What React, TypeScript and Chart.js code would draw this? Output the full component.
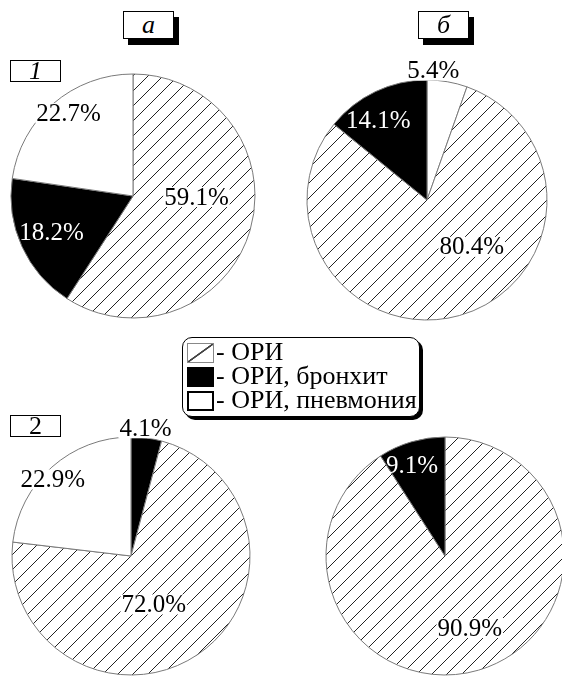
import React, { useEffect, useRef } from 'react';
import { Chart, registerables } from 'chart.js';

Chart.register(...registerables);

// ---- data ----
const categories = ['ОРИ', 'ОРИ, бронхит', 'ОРИ, пневмония'];
const columnTitles = ['а', 'б'];
const rowTitles = ['1', '2'];

const a1Labels = ['ОРИ', 'ОРИ, бронхит', 'ОРИ, пневмония'];
const a1Values = [59.1, 18.2, 22.7];

const b1Labels = ['ОРИ, пневмония', 'ОРИ', 'ОРИ, бронхит'];
const b1Values = [5.4, 80.4, 14.1];

const a2Labels = ['ОРИ, бронхит', 'ОРИ', 'ОРИ, пневмония'];
const a2Values = [4.1, 72.0, 22.9];

const b2Labels = ['ОРИ', 'ОРИ, бронхит'];
const b2Values = [90.9, 9.1];

// ---- layout (label placement: [radial fraction, angle shift in degrees]) ----
const a1Place = [[0.52, -15.5], [0.73, 0.5], [0.86, 3]];
const b1Place = [[1.08, -7], [0.54, -28], [0.78, -6]];
const a2Place = [[1.08, -1], [0.45, 9], [0.92, -4]];
const b2Place = [[0.64, -2.6], [0.81, -3.6]];

const FONT = '"Liberation Serif", Tinos, "Times New Roman", Times, "DejaVu Serif", serif';
const SIZE = 300;

function makeHatch(): CanvasPattern {
  const s = 15;
  const c = document.createElement('canvas');
  c.width = s;
  c.height = s;
  const g = c.getContext('2d')!;
  g.fillStyle = '#fff';
  g.fillRect(0, 0, s, s);
  g.strokeStyle = '#222';
  g.lineWidth = 1;
  g.beginPath();
  g.moveTo(0, s);
  g.lineTo(s, 0);
  g.moveTo(-2, 2);
  g.lineTo(2, -2);
  g.moveTo(s - 2, s + 2);
  g.lineTo(s + 2, s - 2);
  g.stroke();
  return g.createPattern(c, 'repeat')!;
}

type PieProps = {
  labels: string[];
  values: number[];
  place: number[][];
  cx: number;
  cy: number;
  r: number;
};

function Pie({ labels, values, place, cx, cy, r }: PieProps) {
  const ref = useRef<HTMLCanvasElement>(null);
  useEffect(() => {
    const hatch = makeHatch();
    const fill = (l: string) =>
      l === categories[0] ? hatch : l === categories[1] ? '#000' : '#fff';
    const labelPlugin = {
      id: 'pctLabels',
      afterDatasetsDraw(chart: any) {
        const ctx: CanvasRenderingContext2D = chart.ctx;
        const meta = chart.getDatasetMeta(0);
        ctx.save();
        ctx.font = `25px ${FONT}`;
        ctx.textAlign = 'center';
        ctx.textBaseline = 'middle';
        meta.data.forEach((arc: any, i: number) => {
          const p = arc.getProps(['x', 'y', 'startAngle', 'endAngle', 'outerRadius'], true);
          const [f, sh] = place[i];
          const mid = (p.startAngle + p.endAngle) / 2 + (sh * Math.PI) / 180;
          const x = p.x + Math.cos(mid) * p.outerRadius * f;
          const y = p.y + Math.sin(mid) * p.outerRadius * f;
          const txt = values[i].toFixed(1) + '%';
          const dark = labels[i] === categories[1] && f < 1;
          if (!dark) {
            const w = ctx.measureText(txt).width;
            ctx.fillStyle = '#fff';
            ctx.fillRect(x - w / 2 - 1, y - 10, w + 2, 20);
          }
          ctx.fillStyle = dark ? '#fff' : '#000';
          ctx.fillText(txt, x, y + 1);
        });
        ctx.restore();
      },
    };
    const chart = new Chart(ref.current!, {
      type: 'pie',
      data: {
        labels,
        datasets: [
          {
            data: values,
            backgroundColor: labels.map(fill),
            borderColor: '#7a7a7a',
            borderWidth: 1,
            radius: r,
          } as any,
        ],
      },
      options: {
        animation: false,
        responsive: false,
        events: [],
        layout: { padding: 0 },
        plugins: { legend: { display: false }, tooltip: { enabled: false } },
      },
      plugins: [labelPlugin],
    });
    return () => chart.destroy();
  }, []);
  return (
    <canvas
      ref={ref}
      width={SIZE}
      height={SIZE}
      style={{
        position: 'absolute',
        left: cx - SIZE / 2,
        top: cy - SIZE / 2,
        width: SIZE,
        height: SIZE,
      }}
    />
  );
}

function TitleBox({ text, left, top, w, h, shadow, italic }: any) {
  return (
    <div
      style={{
        position: 'absolute',
        left,
        top,
        width: w,
        height: h,
        boxSizing: 'border-box',
        border: '1px solid #000',
        background: '#fff',
        boxShadow: shadow ? '5px 6px 0 #000' : 'none',
        fontFamily: FONT,
        fontStyle: italic ? 'italic' : 'normal',
        fontSize: 26,
        lineHeight: `${h - 2}px`,
        textAlign: 'center',
        color: '#000',
      }}
    >
      {text}
    </div>
  );
}

function Swatch({ kind }: { kind: number }) {
  const base: React.CSSProperties = {
    position: 'absolute',
    left: 0,
    top: 0,
    width: 27,
    height: 20,
    boxSizing: 'border-box',
  };
  if (kind === 0)
    return (
      <div
        style={{
          ...base,
          border: '1px solid #888',
          background:
            'linear-gradient(to bottom right, transparent 46%, #444 48%, #444 52%, transparent 54%)',
        }}
      />
    );
  if (kind === 1) return <div style={{ ...base, background: '#000' }} />;
  return <div style={{ ...base, border: '2px solid #000', background: '#fff' }} />;
}

function Legend() {
  const rowTops = [343, 367, 391];
  return (
    <>
      <div
        style={{
          position: 'absolute',
          left: 182,
          top: 337,
          width: 238,
          height: 80,
          boxSizing: 'border-box',
          border: '1.5px solid #000',
          borderRadius: 10,
          boxShadow: '3px 3px 0 #000',
          background: '#fff',
        }}
      />
      {categories.map((c, i) => (
        <div key={c} style={{ position: 'absolute', left: 187, top: rowTops[i], width: 230, height: 22 }}>
          <Swatch kind={i} />
          <div
            style={{
              position: 'absolute',
              left: 29,
              top: -5,
              fontFamily: FONT,
              fontSize: 26,
              lineHeight: '28px',
              whiteSpace: 'nowrap',
              color: '#000',
            }}
          >
            {'- ' + c}
          </div>
        </div>
      ))}
    </>
  );
}

export default function App() {
  return (
    <div
      style={{
        position: 'absolute',
        left: 0,
        top: 0,
        width: 562,
        height: 677,
        overflow: 'hidden',
        background: '#fff',
      }}
    >
      <Pie labels={a1Labels} values={a1Values} place={a1Place} cx={133} cy={196} r={122} />
      <Pie labels={b1Labels} values={b1Values} place={b1Place} cx={427} cy={200} r={120} />
      <Pie labels={a2Labels} values={a2Values} place={a2Place} cx={131} cy={556} r={119} />
      <Pie labels={b2Labels} values={b2Values} place={b2Place} cx={445} cy={556} r={119} />
      <TitleBox text={columnTitles[0]} left={123} top={11} w={51} h={28} shadow italic />
      <TitleBox text={columnTitles[1]} left={418} top={11} w={51} h={28} shadow italic />
      <TitleBox text={rowTitles[0]} left={10} top={60} w={51} h={22} italic />
      <TitleBox text={rowTitles[1]} left={10} top={415} w={51} h={22} />
      <Legend />
    </div>
  );
}
